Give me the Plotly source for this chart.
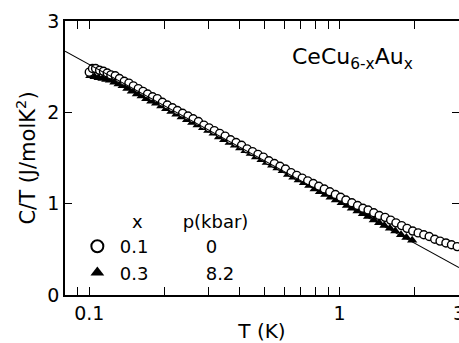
import plotly.graph_objects as go
import numpy as np

# x = 0.1, p = 0 kbar (open circles)
T_x01 = [0.100, 0.103, 0.106, 0.110, 0.114, 0.118, 0.122, 0.127, 0.132, 0.138,
         0.144, 0.150, 0.157, 0.164, 0.171, 0.179, 0.187, 0.196, 0.205, 0.215,
         0.225, 0.236, 0.248, 0.260, 0.273, 0.287, 0.301, 0.316, 0.332, 0.349,
         0.367, 0.386, 0.406, 0.427, 0.449, 0.472, 0.496, 0.522, 0.549, 0.578,
         0.608, 0.640, 0.674, 0.709, 0.746, 0.785, 0.826, 0.869, 0.914, 0.962,
         1.01, 1.06, 1.12, 1.18, 1.24, 1.30, 1.37, 1.44, 1.52, 1.60,
         1.68, 1.77, 1.86, 1.96, 2.06, 2.17, 2.28, 2.40, 2.52, 2.66,
         2.80, 2.95]
CT_x01 = [2.44, 2.48, 2.48, 2.46, 2.45, 2.43, 2.41, 2.40, 2.37, 2.34,
          2.32, 2.29, 2.26, 2.23, 2.20, 2.17, 2.15, 2.11, 2.08, 2.05,
          2.02, 1.99, 1.96, 1.93, 1.90, 1.86, 1.83, 1.80, 1.77, 1.74,
          1.70, 1.67, 1.64, 1.60, 1.57, 1.54, 1.51, 1.47, 1.44, 1.41,
          1.38, 1.34, 1.31, 1.28, 1.25, 1.22, 1.19, 1.16, 1.13, 1.10,
          1.07, 1.04, 1.01, 0.98, 0.95, 0.93, 0.90, 0.87, 0.85, 0.82,
          0.79, 0.76, 0.73, 0.70, 0.68, 0.66, 0.64, 0.61, 0.59, 0.57,
          0.55, 0.53]

# x = 0.3, p = 8.2 kbar (filled triangles)
T_x03 = [0.101, 0.105, 0.109, 0.113, 0.117, 0.121, 0.126, 0.131, 0.136, 0.142,
         0.148, 0.155, 0.162, 0.169, 0.177, 0.185, 0.194, 0.203, 0.213, 0.223,
         0.234, 0.246, 0.258, 0.271, 0.285, 0.299, 0.314, 0.330, 0.346, 0.364,
         0.382, 0.401, 0.421, 0.442, 0.464, 0.488, 0.512, 0.538, 0.565, 0.593,
         0.623, 0.654, 0.687, 0.721, 0.757, 0.795, 0.835, 0.877, 0.921, 0.967,
         1.02, 1.07, 1.12, 1.18, 1.24, 1.30, 1.37, 1.44, 1.51, 1.59,
         1.67, 1.76, 1.85, 1.95]
CT_x03 = [2.40, 2.39, 2.38, 2.37, 2.36, 2.35, 2.33, 2.31, 2.29, 2.26,
          2.23, 2.20, 2.18, 2.15, 2.12, 2.10, 2.07, 2.04, 2.01, 1.98,
          1.95, 1.92, 1.89, 1.86, 1.83, 1.80, 1.77, 1.73, 1.70, 1.67,
          1.64, 1.61, 1.58, 1.55, 1.51, 1.48, 1.45, 1.42, 1.39, 1.36,
          1.32, 1.29, 1.26, 1.23, 1.20, 1.16, 1.13, 1.10, 1.07, 1.04,
          1.01, 0.98, 0.95, 0.92, 0.89, 0.86, 0.82, 0.79, 0.76, 0.73,
          0.70, 0.66, 0.63, 0.60]

# -ln T fit line
T_fit = [0.08, 3.0]
CT_fit = [2.67, 0.30]

x_tickvals = [0.1, 1, 3]
x_ticktext = ["0.1", "1", "3"]
x_minor = [0.09, 0.2, 0.3, 0.4, 0.5, 0.6, 0.7, 0.8, 0.9, 2]
y_tickvals = [0, 1, 2, 3]

NB = "\u00a0"
legend_title = NB * 9 + "\u2009" + "x" + NB * 7 + "p(kbar)"
name_x01 = "0.1" + NB * 10 + "0"
name_x03 = "0.3" + NB * 10 + "8.2"

FONT_H = "DejaVu Sans, Verdana, sans-serif"

fig = go.Figure()
fig.add_trace(go.Scatter(x=T_fit, y=CT_fit, mode="lines", yaxis="y2",
                         line=dict(color="black", width=1.1), showlegend=False,
                         hoverinfo="skip"))
fig.add_trace(go.Scatter(x=T_x03, y=CT_x03, mode="markers", name=name_x03,
                         marker=dict(symbol="triangle-up", size=9, color="black",
                                     line=dict(width=0))))
fig.add_trace(go.Scatter(x=T_x01, y=CT_x01, mode="markers", name=name_x01,
                         marker=dict(symbol="circle", size=8, color="white",
                                     line=dict(color="black", width=1.4))))

yax_common = dict(range=[0, 3], tickvals=y_tickvals, automargin=False,
                  ticks="inside", ticklen=7, tickwidth=1.3, tickcolor="black",
                  showgrid=False, zeroline=False,
                  tickfont=dict(family=FONT_H, size=19))

fig.update_layout(
    width=459, height=343,
    margin=dict(l=65, r=0, t=21, b=48, autoexpand=False),
    paper_bgcolor="white", plot_bgcolor="white",
    font=dict(family=FONT_H, size=19, color="black"),
    showlegend=True,
    legend=dict(x=0.025, y=0.33, xanchor="left", yanchor="top",
                traceorder="reversed", bgcolor="rgba(0,0,0,0)",
                font=dict(size=18), title=dict(text=legend_title, font=dict(size=18)),
                itemsizing="constant", itemwidth=35, tracegroupgap=0),
    xaxis=dict(type="log", range=[np.log10(0.08), np.log10(3.0)], automargin=False,
               tickvals=x_tickvals, ticktext=x_ticktext, ticklabeloverflow="allow",
               ticks="inside", ticklen=8, tickwidth=1.3, tickcolor="black",
               minor=dict(tickvals=x_minor, ticks="inside", ticklen=5,
                          tickwidth=1.2, tickcolor="black", showgrid=False),
               showline=True, linecolor="black", linewidth=1.5, mirror="allticks",
               showgrid=False, zeroline=False,
               title=dict(text="T (K)", standoff=5, font=dict(family=FONT_H, size=20))),
    yaxis=dict(**yax_common, showline=True, linecolor="black", linewidth=1.5,
               title=dict(text="C/T (J/molK<sup>2</sup>)", standoff=6,
                          font=dict(family=FONT_H, size=21))),
    yaxis2=dict(**yax_common, overlaying="y", side="right", showline=False,
                showticklabels=False),
    annotations=[dict(text="CeCu<sub>6-x</sub>Au<sub>x</sub>", xref="paper", yref="paper",
                      x=0.57, y=0.863, xanchor="left", yanchor="middle",
                      showarrow=False, font=dict(family=FONT_H, size=22))],
)

fig.write_html("out.html")
